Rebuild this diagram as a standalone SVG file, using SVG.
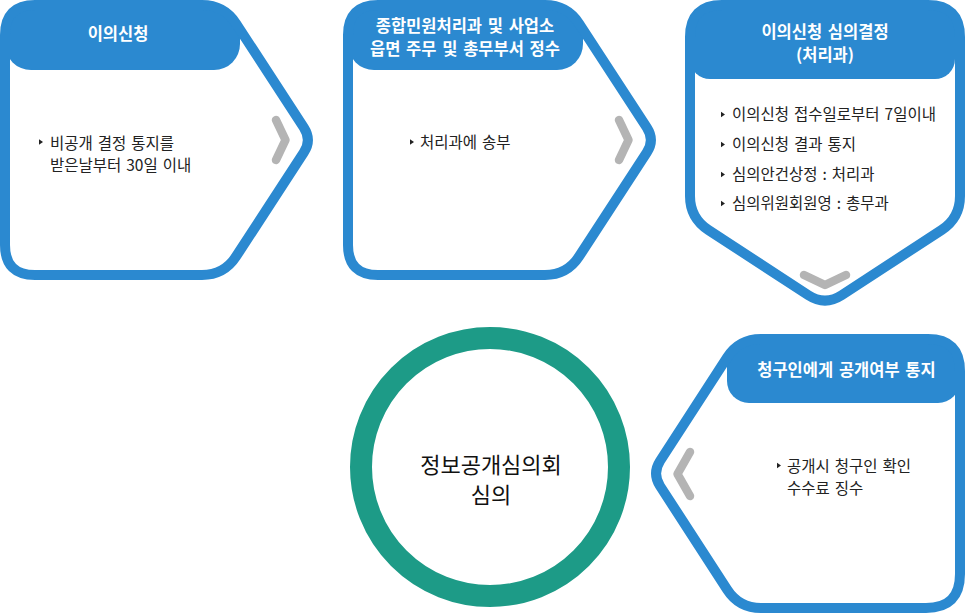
<svg xmlns="http://www.w3.org/2000/svg" xmlns:xlink="http://www.w3.org/1999/xlink" width="965" height="614" viewBox="0 0 965 614">
  <style>
    .frame { fill: #ffffff; stroke: #2b89d0; stroke-width: 10; }
    .head { fill: #2b89d0; }
    .ht { font-family: "Noto Sans CJK KR", "Noto Sans", sans-serif; font-size: 16.5px; font-weight: bold; fill: #ffffff; text-anchor: middle; word-spacing: 2px; }
    .bt { font-family: "Noto Sans CJK KR", "Noto Sans", sans-serif; font-size: 15.5px; fill: #222222; word-spacing: 1.5px; }
    .ct { font-family: "Noto Sans CJK KR", "Noto Sans", sans-serif; font-size: 22px; fill: #111111; text-anchor: middle; }
    .chev { fill: none; stroke: #b4b4b4; stroke-width: 8.5; stroke-linecap: round; stroke-linejoin: round; }
    .bul { fill: #222222; }
  </style>
  <defs>
    <path id="shapeR" d="M5,35 Q5,5 35,5 L202,5 Q224,5 236,23.4 L303.8,127.4 Q312,140 303.8,152.6 L236,256.6 Q224,275 202,275 L35,275 Q5,275 5,245 Z"/>
    <path id="shapeD" d="M690,37 Q690,5 722,5 L928,5 Q960,5 960,37 L960,196 Q960,218 941.6,230 L841.8,295.1 Q825,306 808.2,295.1 L708.4,230 Q690,218 690,196 Z"/>
    <path id="shapeL" d="M727.1,357.5 Q739,339 761,339 L928,339 Q960,339 960,371 L960,574 Q960,608 926,608 L761,608 Q739,608 727.1,589.5 L660.1,486.1 Q652,473.5 660.1,460.9 Z"/>
    <clipPath id="clipR"><use xlink:href="#shapeR"/></clipPath>
    <clipPath id="clipD"><use xlink:href="#shapeD"/></clipPath>
    <clipPath id="clipL"><use xlink:href="#shapeL"/></clipPath>
    <path id="bullet" class="bul" d="M0,-2.8 L4,0 L0,2.8 Z"/>
  </defs>

  <g id="node-1">
    <use xlink:href="#shapeR" class="frame" style="stroke:none"/>
    <rect class="head" x="5" y="-40" width="235" height="110" rx="26" clip-path="url(#clipR)"/>
    <use xlink:href="#shapeR" class="frame" style="fill:none"/>
    <text class="ht" x="118" y="39.5">이의신청</text>
    <use xlink:href="#bullet" x="39" y="142"/>
    <text class="bt" x="50" y="148.7">비공개 결정 통지를</text>
    <text class="bt" x="50" y="170.7">받은날부터 30일 이내</text>
  </g>

  <g id="node-2" transform="translate(343,0)">
    <use xlink:href="#shapeR" class="frame" style="stroke:none"/>
    <rect class="head" x="5" y="-40" width="235" height="110" rx="26" clip-path="url(#clipR)"/>
    <use xlink:href="#shapeR" class="frame" style="fill:none"/>
    <text class="ht" x="122" y="32">종합민원처리과 및 사업소</text>
    <text class="ht" x="122" y="55.4">읍면 주무 및 총무부서 정수</text>
    <use xlink:href="#bullet" x="67" y="142"/>
    <text class="bt" x="77" y="147.7">처리과에 송부</text>
  </g>

  <g id="node-3">
    <use xlink:href="#shapeD" class="frame" style="stroke:none"/>
    <rect class="head" x="690" y="-40" width="265" height="119" rx="20" clip-path="url(#clipD)"/>
    <use xlink:href="#shapeD" class="frame" style="fill:none"/>
    <text class="ht" x="825" y="37.8">이의신청 심의결정</text>
    <text class="ht" x="825" y="61">(처리과)</text>
    <use xlink:href="#bullet" x="721" y="114.5"/>
    <text class="bt" x="732" y="120.2">이의신청 접수일로부터 7일이내</text>
    <use xlink:href="#bullet" x="721" y="144.5"/>
    <text class="bt" x="732" y="150.2">이의신청 결과 통지</text>
    <use xlink:href="#bullet" x="721" y="174.5"/>
    <text class="bt" x="732" y="180.2">심의안건상정 : 처리과</text>
    <use xlink:href="#bullet" x="721" y="203.5"/>
    <text class="bt" x="732" y="209.2">심의위원회원영 : 총무과</text>
  </g>

  <g id="node-4">
    <use xlink:href="#shapeL" class="frame" style="stroke:none"/>
    <rect class="head" x="727" y="300" width="233" height="103" rx="22" clip-path="url(#clipL)"/>
    <use xlink:href="#shapeL" class="frame" style="fill:none"/>
    <text class="ht" x="846.5" y="376">청구인에게 공개여부 통지</text>
    <use xlink:href="#bullet" x="777" y="465.5"/>
    <text class="bt" x="787" y="472.4">공개시 청구인 확인</text>
    <text class="bt" x="787" y="494">수수료 징수</text>
  </g>

  <g id="node-5">
    <circle cx="490" cy="467" r="129" fill="#ffffff" stroke="#1d9b87" stroke-width="22"/>
    <text class="ct" x="491" y="473">정보공개심의회</text>
    <text class="ct" x="491" y="503">심의</text>
  </g>

  <g id="connectors">
    <polyline class="chev" points="276,120 285.5,140 276,160"/>
    <polyline class="chev" points="619,120 628.5,140 619,160"/>
    <polyline class="chev" points="804,275 825,285 846,275"/>
    <polyline class="chev" points="690,452 677.5,474 690,496"/>
  </g>
</svg>
